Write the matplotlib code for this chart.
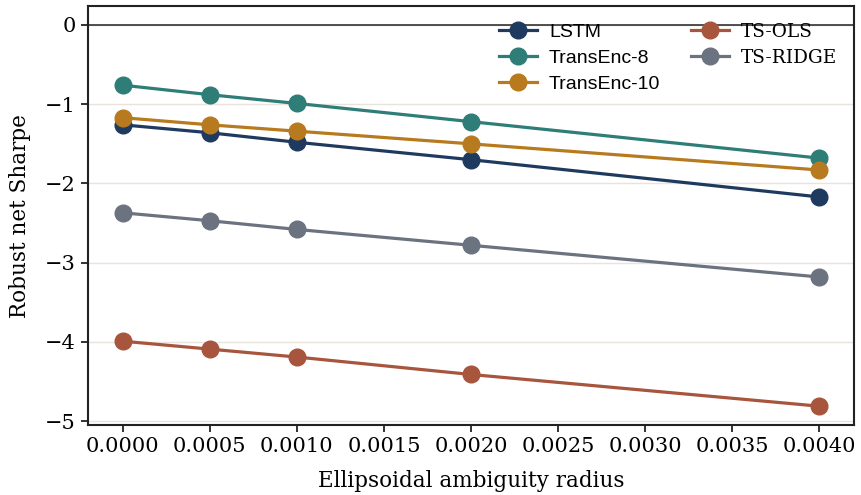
import matplotlib.pyplot as plt

# ambiguity radius vs robust net Sharpe for each model
radius = [0.0, 0.0005, 0.001, 0.002, 0.004]
lstm = [-1.26, -1.36, -1.48, -1.70, -2.17]
transenc8 = [-0.76, -0.88, -0.99, -1.22, -1.68]
transenc10 = [-1.17, -1.26, -1.34, -1.50, -1.83]
ts_ols = [-3.99, -4.09, -4.19, -4.41, -4.81]
ts_ridge = [-2.37, -2.47, -2.58, -2.78, -3.18]

names = ['LSTM', 'TransEnc-8', 'TransEnc-10', 'TS-OLS', 'TS-RIDGE']
colors = ['#1f3a5f', '#2e7d77', '#b87a1e', '#a8553d', '#6b7280']
series = [lstm, transenc8, transenc10, ts_ols, ts_ridge]

plt.rcParams['font.family'] = 'DejaVu Serif'

fig = plt.figure(figsize=(8.61, 4.95), dpi=100)
ax = fig.add_axes([0.102, 0.141, 0.890, 0.847])

for name, vals, c in zip(names, series, colors):
    ax.plot(radius, vals, color=c, marker='o', markersize=12, linewidth=2.3, label=name)

ax.axhline(0, color='#222222', linewidth=1.1, zorder=1)
ax.grid(axis='y', color='#e8e4dc', linewidth=1.0)
ax.set_axisbelow(True)

ax.set_xlim(-0.0002, 0.0042)
ax.set_ylim(-5.05, 0.24)
ax.set_xticks([0.0005 * i for i in range(9)])
ax.set_xticklabels(['%.4f' % (0.0005 * i) for i in range(9)])
ax.set_yticks([0, -1, -2, -3, -4, -5])
ax.set_yticklabels(['0', '\u22121', '\u22122', '\u22123', '\u22124', '\u22125'])
ax.tick_params(labelsize=15, width=1.3, length=5, color='#222222')

for s in ax.spines.values():
    s.set_linewidth(1.5)
    s.set_color('#222222')

ax.set_xlabel('Ellipsoidal ambiguity radius', fontsize=15.5, labelpad=10)
ax.set_ylabel('Robust net Sharpe', fontsize=15.5, labelpad=10)

leg = ax.legend(ncol=2, loc='upper right', bbox_to_anchor=(1.001, 1.002), frameon=False,
                prop={'family': 'Liberation Sans', 'size': 14},
                handlelength=2.0, labelspacing=0.43, columnspacing=1.55, handletextpad=0.6)
for t in leg.get_texts():
    if t.get_text().startswith('TS'):
        t.set_fontfamily('DejaVu Serif')
        t.set_fontsize(13.3)

fig.savefig('out.png', dpi=100)
